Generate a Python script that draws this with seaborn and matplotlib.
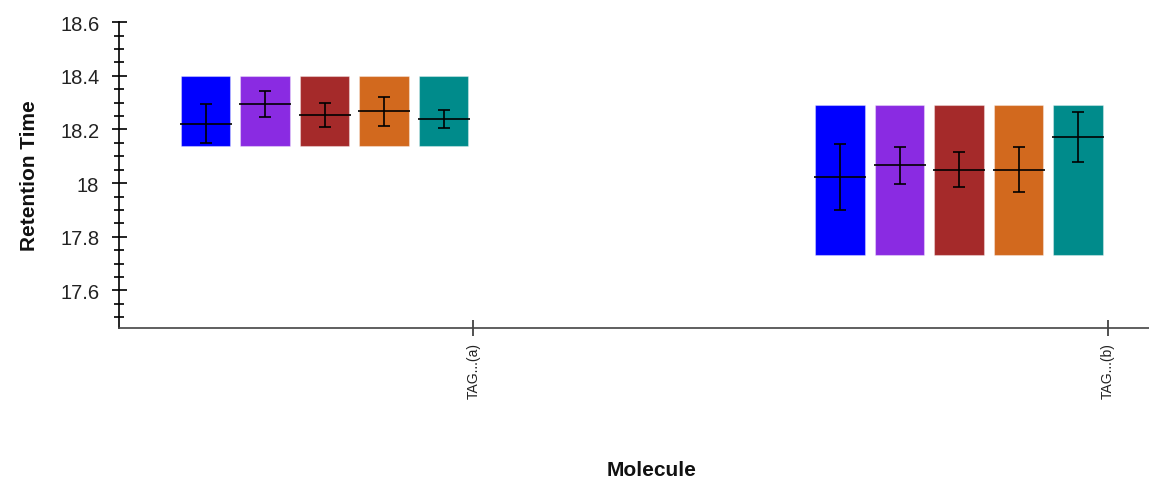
import numpy as np
import pandas as pd
import matplotlib
matplotlib.use("Agg")
import matplotlib.pyplot as plt
from matplotlib.ticker import MultipleLocator
import seaborn as sns

# ---- data -------------------------------------------------------------
molecules = ["TAG...(a)", "TAG...(b)"]
replicates = ["R1", "R2", "R3", "R4", "R5"]
replicate_colors = ["#0000FF", "#8A2BE2", "#A52A2A", "#D2691E", "#008B8B"]

# retention-time window (box) per molecule
window_low = [18.14, 17.732]
window_high = [18.40, 18.29]

# mean retention time and spread per replicate
mean_a = [18.222, 18.294, 18.254, 18.267, 18.239]
err_a = [0.072, 0.048, 0.045, 0.055, 0.033]
mean_b = [18.022, 18.066, 18.050, 18.050, 18.171]
err_b = [0.122, 0.069, 0.066, 0.083, 0.094]

means = [mean_a, mean_b]
errs = [err_a, err_b]

# ---- layout ------------------------------------------------------------
sns.set_style("ticks")
plt.rcParams["font.family"] = ["Liberation Sans", "DejaVu Sans"]

fig = plt.figure(figsize=(11.49, 4.81), dpi=100)
ax = fig.add_axes([0.1038, 0.316, 0.8962, 0.636])

bar_w = 0.078
step = 0.0938
group_start = -0.461  # left edge of first box relative to category tick

for ci, mol in enumerate(molecules):
    centers = ci + group_start + bar_w / 2 + step * np.arange(len(replicates))
    df = pd.DataFrame({
        "pos": centers,
        "height": [window_high[ci] - window_low[ci]] * len(replicates),
        "rep": replicates,
    })
    sns.barplot(
        data=df, x="pos", y="height", hue="rep", palette=replicate_colors,
        native_scale=True, width=bar_w / step, dodge=False, legend=False,
        bottom=window_low[ci], ax=ax, linewidth=0.8,
        edgecolor=(1, 1, 1, 0.35), saturation=1,
    )
    # mean line across each box
    ax.hlines(means[ci], centers - bar_w / 2 - 0.002, centers + bar_w / 2 + 0.002,
              colors="black", linewidth=1.2, zorder=4)
    # spread
    ax.errorbar(centers, means[ci], yerr=errs[ci], fmt="none", ecolor="black",
                elinewidth=1.2, capsize=4, capthick=1.2, zorder=5)

# ---- axes styling ------------------------------------------------------
ax.set_xlim(-0.558, 1.065)
ax.set_ylim(17.46, 18.6)

ax.set_xticks(range(len(molecules)))
ax.set_xticklabels(molecules, rotation=90, va="top", ha="center",
                   fontsize=10, color="#222222")
ax.yaxis.set_major_locator(MultipleLocator(0.2))
ax.yaxis.set_minor_locator(MultipleLocator(0.05))
ax.yaxis.set_major_formatter(matplotlib.ticker.FuncFormatter(
    lambda v, p: f"{v:.1f}".rstrip("0").rstrip(".")))

ax.tick_params(axis="y", which="major", direction="inout", length=10.8,
               width=1.2, pad=9, labelsize=14.5, labelcolor="#222222",
               color="black")
ax.tick_params(axis="y", which="minor", direction="inout", length=6.5,
               width=1.2, color="black")
ax.tick_params(axis="x", which="major", direction="inout", length=11.5,
               width=1.2, pad=4.3, color="#333333")

sns.despine(ax=ax, top=True, right=True)
ax.spines["left"].set_color("black")
ax.spines["left"].set_linewidth(1.2)
ax.spines["bottom"].set_color("#444444")
ax.spines["bottom"].set_linewidth(1.2)

ax.set_xlabel("")
ax.set_ylabel("")
fig.text(0.567, 1 - 476 / 481, "Molecule", ha="center", va="baseline",
         fontsize=15, fontweight="bold", color="#111111")
fig.text(30 / 1149, 1 - 175.5 / 481, "Retention Time", ha="center", va="center",
         rotation=90, fontsize=15, fontweight="bold", color="#111111")

fig.savefig("out.png", dpi=100)
